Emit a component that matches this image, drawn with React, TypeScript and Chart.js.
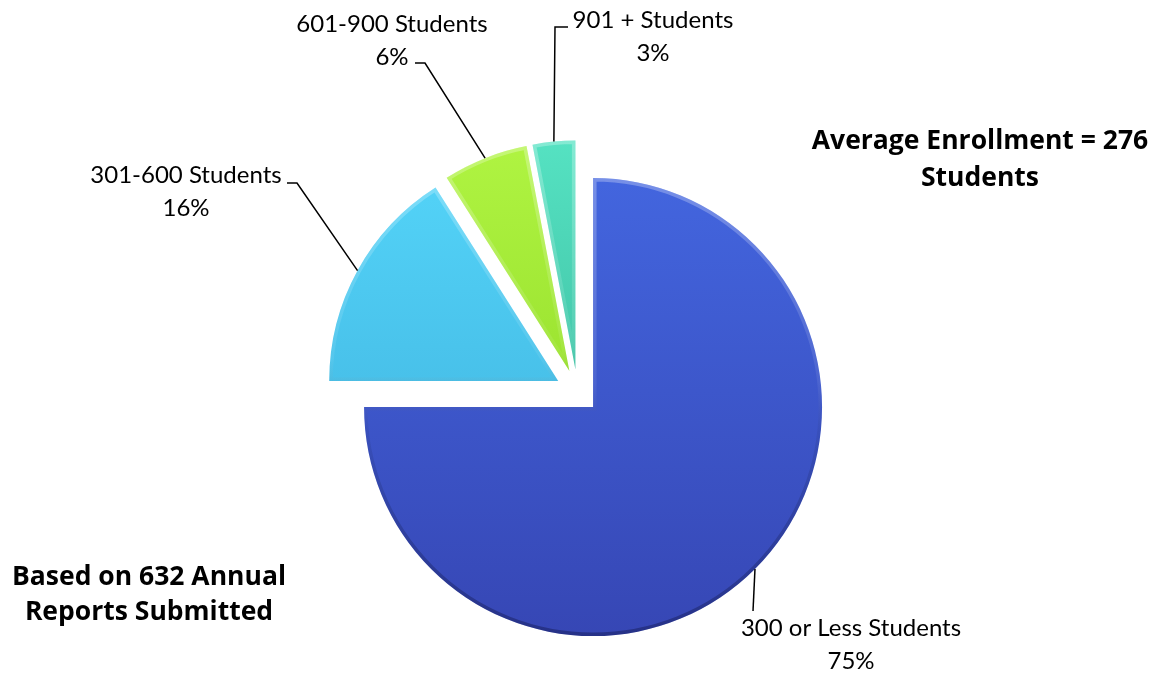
import React, { useEffect, useRef } from "react";
import { Chart, ArcElement, PieController } from "chart.js";

Chart.register(ArcElement, PieController);

// ---- data ----
const CATEGORIES = ["300 or Less Students", "301-600 Students", "601-900 Students", "901 + Students"];
const PERCENTS = [75, 16, 6, 3];
const NOTE_TOP = ["Average Enrollment = 276", "Students"];
const NOTE_BOTTOM = ["Based on 632 Annual", "Reports Submitted"];

// ---- styles ----
const TOP_COLORS = ["#4468e2", "#55d6fa", "#b0f442", "#55e2c2"];
const BOTTOM_COLORS = ["#3646b4", "#3aaad8", "#84d01c", "#2fa68c"];
const RADIUS = 229;
const EXPLODE = 22;
const FONT = "Lato, 'Liberation Sans', sans-serif";
const NOTE_FONT = "'Open Sans', 'Liberation Sans', sans-serif";
const LABEL_SIZE = 24;
const NOTE_SIZE = 26.5;
const LINE_GAP = 33;

// label anchors: text centre x, first baseline y, leader-line route from the slice
const LABEL_LAYOUT = [
  { cx: 851, y: 636, route: [[753, 611]] },
  { cx: 186, y: 183, route: [[297, 183], [287, 183]] },
  { cx: 392, y: 32, route: [[425, 63], [415, 63]] },
  { cx: 653, y: 28, route: [[555, 27], [568, 27]] },
];
const NOTE_LAYOUT = [
  { cx: 980, y: 149, gap: 37, lines: NOTE_TOP },
  { cx: 149, y: 585, gap: 35, lines: NOTE_BOTTOM },
];

const explodePlugin = {
  id: "explode",
  afterDatasetUpdate(chart: any, args: any) {
    const meta = chart.getDatasetMeta(args.index);
    meta.data.forEach((arc: any) => {
      const mid = (arc.startAngle + arc.endAngle) / 2;
      arc.x += Math.cos(mid) * EXPLODE;
      arc.y += Math.sin(mid) * EXPLODE;
    });
  },
};

const bevelPlugin = {
  id: "bevel",
  afterDatasetsDraw(chart: any) {
    const ctx: CanvasRenderingContext2D = chart.ctx;
    const meta = chart.getDatasetMeta(0);
    meta.data.forEach((arc: any) => {
      const { x, y, startAngle, endAngle, outerRadius } = arc;
      ctx.save();
      ctx.beginPath();
      ctx.moveTo(x, y);
      ctx.arc(x, y, outerRadius, startAngle, endAngle);
      ctx.closePath();
      ctx.clip();
      const g = ctx.createLinearGradient(0, y - outerRadius, 0, y + outerRadius);
      g.addColorStop(0, "rgba(255,255,255,0.28)");
      g.addColorStop(0.45, "rgba(255,255,255,0.07)");
      g.addColorStop(0.55, "rgba(0,0,0,0.06)");
      g.addColorStop(1, "rgba(0,0,30,0.3)");
      ctx.lineWidth = 7;
      ctx.lineJoin = "miter";
      ctx.strokeStyle = g;
      ctx.stroke();
      ctx.restore();
    });
  },
};

const labelPlugin = {
  id: "labels",
  afterDraw(chart: any) {
    const ctx: CanvasRenderingContext2D = chart.ctx;
    const meta = chart.getDatasetMeta(0);
    const values: number[] = chart.data.datasets[0].data;
    const total = values.reduce((a, b) => a + b, 0);
    ctx.save();
    meta.data.forEach((arc: any, i: number) => {
      const mid = (arc.startAngle + arc.endAngle) / 2;
      const px = arc.x + Math.cos(mid) * arc.outerRadius;
      const py = arc.y + Math.sin(mid) * arc.outerRadius;
      const lay = LABEL_LAYOUT[i];
      ctx.beginPath();
      ctx.moveTo(px, py);
      lay.route.forEach(([rx, ry]) => ctx.lineTo(rx, ry));
      ctx.strokeStyle = "#000";
      ctx.lineWidth = 1.5;
      ctx.stroke();
      ctx.fillStyle = "#000";
      ctx.textAlign = "center";
      ctx.textBaseline = "alphabetic";
      ctx.font = `${LABEL_SIZE}px ${FONT}`;
      ctx.fillText(String(chart.data.labels[i]), lay.cx, lay.y);
      ctx.fillText(Math.round((values[i] / total) * 100) + "%", lay.cx, lay.y + LINE_GAP);
    });
    ctx.font = `bold ${NOTE_SIZE}px ${NOTE_FONT}`;
    NOTE_LAYOUT.forEach((n) => {
      n.lines.forEach((t, k) => ctx.fillText(t, n.cx, n.y + k * n.gap));
    });
    ctx.restore();
  },
};

export default function App() {
  const ref = useRef<HTMLCanvasElement>(null);
  useEffect(() => {
    if (!ref.current) return;
    const chart = new Chart(ref.current, {
      type: "pie",
      data: {
        labels: CATEGORIES,
        datasets: [
          {
            data: PERCENTS,
            borderWidth: 0,
            backgroundColor: (c: any) => {
              const chart = c.chart;
              const area = chart.chartArea;
              const i = c.dataIndex ?? 0;
              if (!area) return TOP_COLORS[i];
              const cy = (area.top + area.bottom) / 2;
              const g = chart.ctx.createLinearGradient(0, cy - RADIUS - EXPLODE, 0, cy + RADIUS + EXPLODE);
              g.addColorStop(0, TOP_COLORS[i]);
              g.addColorStop(1, BOTTOM_COLORS[i]);
              return g;
            },
          },
        ],
      },
      options: {
        animation: false,
        responsive: true,
        maintainAspectRatio: false,
        events: [],
        radius: RADIUS,
        layout: { padding: { left: 0, right: 13, top: 108, bottom: 0 } },
        plugins: { legend: { display: false }, tooltip: { enabled: false } },
      } as any,
      plugins: [explodePlugin, bevelPlugin, labelPlugin],
    });
    return () => chart.destroy();
  }, []);
  return (
    <div style={{ position: "fixed", left: 0, top: 0, width: 1168, height: 675, background: "#fff" }}>
      <canvas ref={ref} />
    </div>
  );
}
